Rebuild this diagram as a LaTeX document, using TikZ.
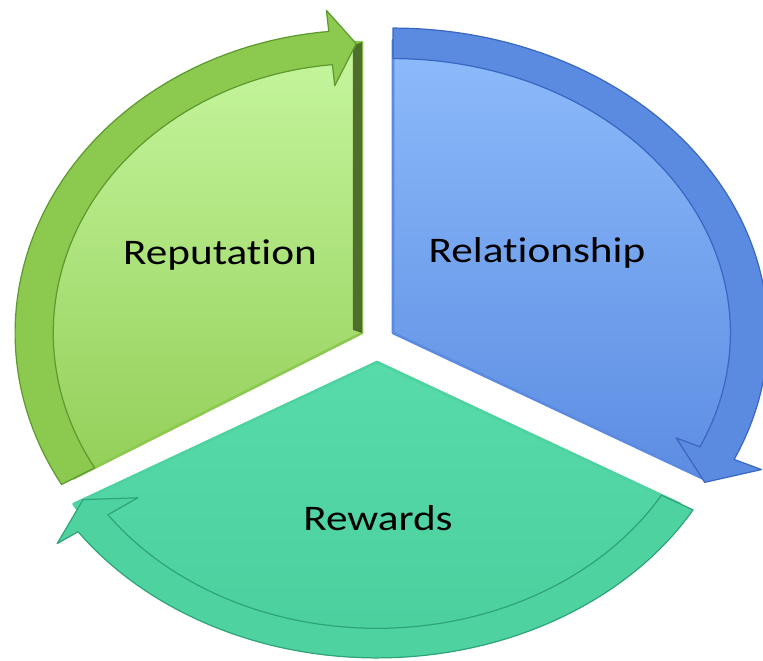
\documentclass[tikz,border=0pt]{standalone}
\usepackage{fontspec}
\setmainfont{Carlito}[FakeStretch=1.2, RawFeature={-liga,-calt,-clig}]
\usetikzlibrary{backgrounds}
\pgfdeclarelayer{shapelayer}
\pgfsetlayers{shapelayer,main}
\definecolor{greentop}{HTML}{C6F69E}
\definecolor{greenbot}{HTML}{93CF58}
\definecolor{greenband}{HTML}{8CC94F}
\definecolor{greenedge}{HTML}{5E9A30}
\definecolor{greenside}{HTML}{4F6E2C}
\definecolor{bluetop}{HTML}{8DBBFB}
\definecolor{bluebot}{HTML}{5C8DE2}
\definecolor{blueband}{HTML}{5A8BE0}
\definecolor{blueedge}{HTML}{3A67C2}
\definecolor{tealtop}{HTML}{58DBAB}
\definecolor{tealbot}{HTML}{4BCF9D}
\definecolor{tealband}{HTML}{4ED3A0}
\definecolor{tealedge}{HTML}{2FA47A}
\tikzstyle{segtext}=[font=\fontsize{20.5}{24}\selectfont, text=black, inner sep=0pt, anchor=base]
\tikzstyle{greenbody}=[top color=greentop, bottom color=greenbot, draw=greenband, line width=1.5pt, line join=round]
\tikzstyle{bluebody}=[top color=bluetop, bottom color=bluebot, draw=blueband, line width=1.5pt, line join=round]
\tikzstyle{tealbody}=[top color=tealtop, bottom color=tealbot, draw=tealband, line width=1.5pt, line join=round]
\tikzstyle{greenarrow}=[fill=greenband, draw=greenedge, line width=0.7pt, line join=round]
\tikzstyle{bluearrow}=[fill=blueband, draw=blueedge, line width=0.7pt, line join=round]
\tikzstyle{tealarrow}=[fill=tealband, draw=tealedge, line width=0.7pt, line join=round]

\begin{document}
\begin{tikzpicture}[x=0.02cm, y=-0.02cm]
	\useasboundingbox (0,0) rectangle (763,661);
	\begin{pgfonlayer}{shapelayer}
		% Reputation
		\begin{scope}[shift={(362,333)}, x=6.94cm, y=6.06cm]
			\path[greenbody] (0,0) -- plot[domain=210:90, samples=60] (\x:0.96) -- cycle;
			\fill[greenside] (-0.026,0.01) -- (-0.026,0.95) -- (0,0.96) -- (0,0) -- cycle;
			\draw[greenarrow] plot[domain=210:95.5, samples=60] (\x:1) -- (95.5:1.07) -- (91:0.955)
				-- (95.5:0.82) -- (95.5:0.89) -- plot[domain=95.5:210, samples=60] (\x:0.89) -- cycle;
		\end{scope}
		% Relationship
		\begin{scope}[shift={(393,333)}, x=7.5cm, y=6.1cm]
			\path[bluebody] (0,0) -- plot[domain=90:-30, samples=60] (\x:0.96) -- cycle;
			\draw[bluearrow] plot[domain=90:-24.5, samples=60] (\x:1) -- (-24.5:1.08) -- (-30.5:0.965)
				-- (-24.5:0.83) -- (-24.5:0.90) -- plot[domain=-24.5:90, samples=60] (\x:0.90) -- cycle;
		\end{scope}
		% Rewards
		\begin{scope}[shift={(377,362)}, x=7.3cm, y=5.92cm]
			\path[tealbody] (0,0) -- plot[domain=-30:-150, samples=60] (\x:0.96) -- cycle;
			\draw[tealarrow] plot[domain=-30:-145, samples=60] (\x:1) -- (-145:1.07) -- (-150:0.93)
				-- (-145:0.80) -- (-145:0.90) -- plot[domain=-145:-30, samples=60] (\x:0.90) -- cycle;
		\end{scope}
	\end{pgfonlayer}
	\node [style=segtext] (reputation) at (220,265) {Reputation};
	\node [style=segtext] (relationship) at (537,263) {Relationship};
	\node [style=segtext] (rewards) at (378,530) {Rewards};
\end{tikzpicture}
\end{document}
